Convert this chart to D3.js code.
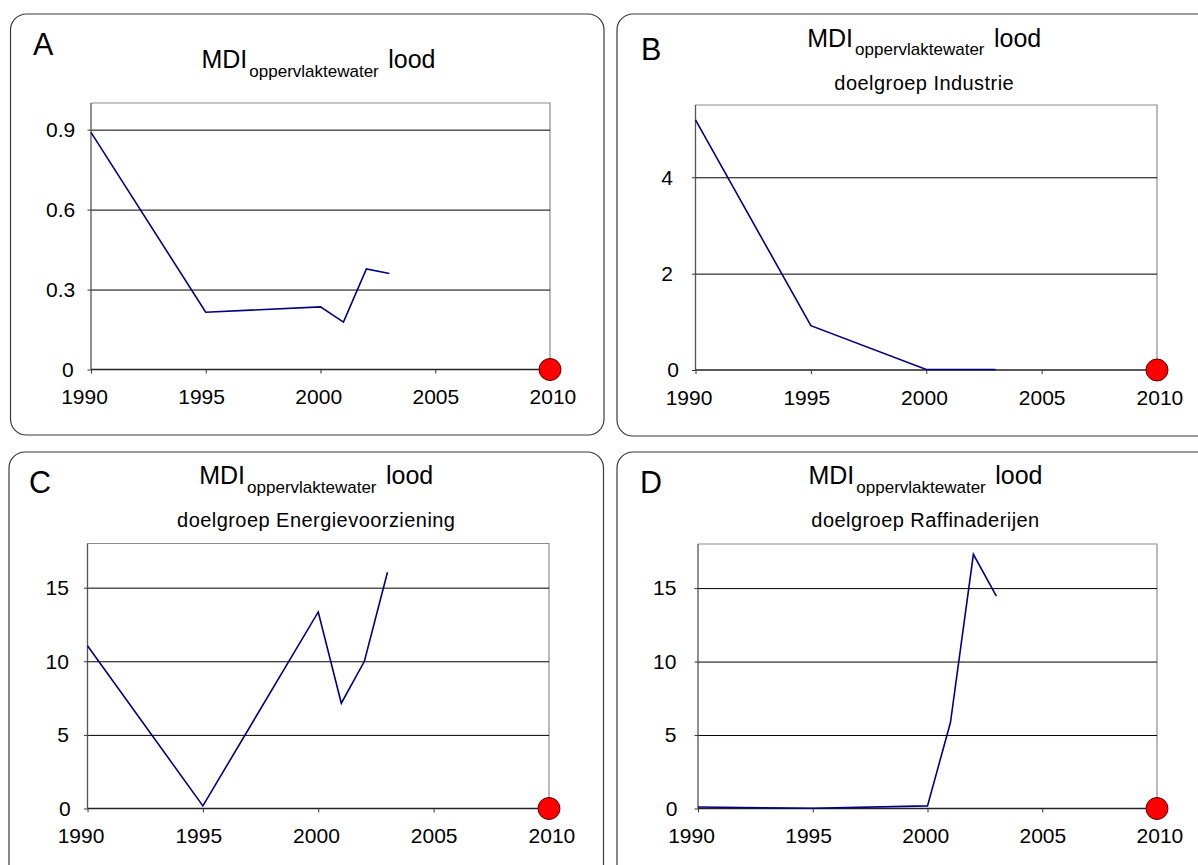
<!DOCTYPE html>
<html>
<head>
<meta charset="utf-8">
<script src="https://cdn.jsdelivr.net/npm/d3@7/dist/d3.min.js"></script>
<style>
  html, body { margin: 0; padding: 0; background: #fff; }
  svg { display: block; font-family: "Liberation Sans", Arial, sans-serif; }
</style>
</head>
<body>
<svg id="chart" width="1198" height="865"></svg>
<script>
// Years with observations
const years = [1990, 1995, 2000, 2001, 2002, 2003];

// Lead emissions to surface water per target group
const leadTotal      = [0.89, 0.215, 0.235, 0.178, 0.377, 0.36];
const leadIndustrie  = [5.19, 0.92, 0.01, 0.01, 0.01, 0.01];
const leadEnergie    = [11.05, 0.18, 13.35, 7.15, 10.0, 16.05];
const leadRaffinage  = [0.1, 0.02, 0.18, 5.85, 17.3, 14.45];

// 2010 target value
const targetYear = 2010;
const targetValue = 0;

// Axis ticks
const xTicks = [1990, 1995, 2000, 2005, 2010];
const yTicksA = [0, 0.3, 0.6, 0.9];
const yTicksB = [0, 2, 4];
const yTicksCD = [0, 5, 10, 15];

const panelLetters = ["A", "B", "C", "D"];
const subtitles = [null, "doelgroep Industrie", "doelgroep Energievoorziening", "doelgroep Raffinaderijen"];

const FONT = "'Liberation Sans', Arial, sans-serif";

// Layout of the four panels
const panels = [
  { letter: panelLetters[0], sub: subtitles[0], values: leadTotal, yMax: 1.0, ticks: yTicksA, fmt: d => d === 0 ? "0" : d3.format(".1f")(d),
    box: [10.5, 14, 593.5, 421], plot: [91, 550, 103, 369.5], gap: 15.7, zeroGap: 17.4, letterXY: [33, 55], titleY: 68, subY: null },
  { letter: panelLetters[1], sub: subtitles[1], values: leadIndustrie, yMax: 5.5, ticks: yTicksB, fmt: d3.format("d"),
    box: [617, 14, 600, 422], plot: [695.5, 1157, 105, 370], gap: 22.7, zeroGap: 16.7, letterXY: [641, 60], titleY: 46.5, subY: 89.5 },
  { letter: panelLetters[2], sub: subtitles[2], values: leadEnergie, yMax: 18, ticks: yTicksCD, fmt: d3.format("d"),
    box: [9, 452, 594.5, 440], plot: [87.5, 549, 543.5, 808.5], gap: 18.7, zeroGap: 16.8, letterXY: [29, 493], titleY: 484, subY: 527 },
  { letter: panelLetters[3], sub: subtitles[3], values: leadRaffinage, yMax: 18, ticks: yTicksCD, fmt: d3.format("d"),
    box: [617, 452, 600, 440], plot: [698, 1157, 544, 808.5], gap: 21.7, zeroGap: 20.6, letterXY: [640, 493], titleY: 484, subY: 527 }
];

const svg = d3.select("#chart");

panels.forEach(p => {
  const g = svg.append("g");
  const [bx, by, bw, bh] = p.box;
  const [L, R, T, B] = p.plot;

  // Rounded frame
  g.append("rect")
    .attr("x", bx).attr("y", by).attr("width", bw).attr("height", bh)
    .attr("rx", 16).attr("ry", 16)
    .attr("fill", "none").attr("stroke", "#3a3a3a").attr("stroke-width", 1.2);

  // Panel letter
  g.append("text")
    .attr("x", p.letterXY[0]).attr("y", p.letterXY[1])
    .attr("font-size", 30.5).attr("fill", "#000")
    .text(p.letter);

  // Title with subscript
  const cx = (L + R) / 2 - 2;
  const title = g.append("text")
    .attr("x", cx).attr("y", p.titleY)
    .attr("text-anchor", "middle").attr("fill", "#000");
  title.append("tspan").attr("font-size", 25).text("MDI");
  title.append("tspan").attr("font-size", 17).attr("dx", 2).attr("dy", 8.5).text("oppervlaktewater");
  title.append("tspan").attr("font-size", 25).attr("dx", 2.5).attr("dy", -8.5).text(" lood");

  if (p.sub) {
    g.append("text")
      .attr("x", cx).attr("y", p.subY)
      .attr("text-anchor", "middle").attr("font-size", 20)
      .attr("letter-spacing", 0.45).attr("fill", "#000")
      .text(p.sub);
  }

  const x = d3.scaleLinear().domain([1990, 2010]).range([L, R]);
  const y = d3.scaleLinear().domain([0, p.yMax]).range([B, T]);

  // Plot area outline (top and right)
  g.append("path")
    .attr("d", `M${L},${T}H${R}V${B}`)
    .attr("fill", "none").attr("stroke", "#8c8c8c").attr("stroke-width", 1.2);

  // Horizontal gridlines
  const grid = g.append("g")
    .attr("transform", `translate(${L},0)`)
    .call(d3.axisLeft(y).tickValues(p.ticks.filter(t => t !== 0)).tickSize(-(R - L)).tickFormat(""));
  grid.select(".domain").remove();
  grid.selectAll(".tick line").attr("stroke", "#000").attr("stroke-width", 1);

  // Y axis
  const ya = g.append("g")
    .attr("transform", `translate(${L},0)`)
    .call(d3.axisLeft(y).tickValues(p.ticks).tickSize(3.5).tickFormat(p.fmt));
  ya.select(".domain").attr("d", `M0,${T}V${B}`).attr("stroke", "#555").attr("stroke-width", 1.3);
  ya.selectAll(".tick line").attr("stroke", "#333");
  ya.selectAll(".tick text")
    .attr("x", d => -(d === 0 ? p.zeroGap : p.gap))
    .attr("font-size", 21).attr("fill", "#000").attr("font-family", FONT);

  // X axis
  const xa = g.append("g")
    .attr("transform", `translate(0,${B})`)
    .call(d3.axisBottom(x).tickValues(xTicks).tickSize(4).tickPadding(16).tickFormat(d3.format("d")));
  xa.select(".domain").attr("d", `M${L},0H${R}`).attr("stroke", "#222").attr("stroke-width", 1.6);
  xa.selectAll(".tick line").attr("stroke", "#333");
  xa.selectAll(".tick text")
    .attr("dx", d => -7 + 9.4 * (d - 1990) / 20)
    .attr("font-size", 21).attr("fill", "#000").attr("font-family", FONT);

  // Emission series
  const pts = years.map((yr, i) => [yr, p.values[i]]);
  g.append("path")
    .datum(pts)
    .attr("fill", "none").attr("stroke", "#000080").attr("stroke-width", 1.6)
    .attr("stroke-linejoin", "miter")
    .attr("d", d3.line().x(d => x(d[0])).y(d => y(d[1])));

  // 2010 target marker
  g.append("circle")
    .attr("cx", x(targetYear)).attr("cy", y(targetValue)).attr("r", 11)
    .attr("fill", "#ff0000").attr("stroke", "#5a0000").attr("stroke-width", 1);
});
</script>
</body>
</html>
